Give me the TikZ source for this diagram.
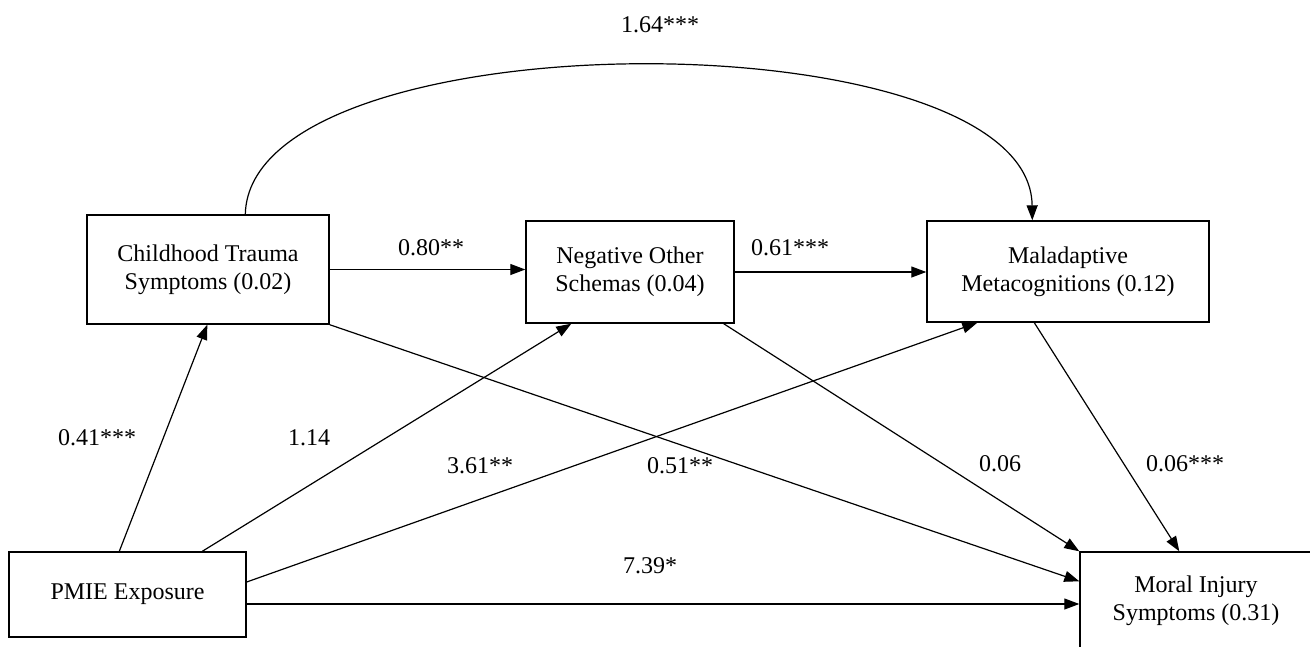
\documentclass[tikz,border=0pt]{standalone}
\usepackage{fontspec}
\setmainfont{Liberation Serif}
\usetikzlibrary{arrows.meta}
\tikzset{
  varbox/.style={draw, line width=1.4pt, rectangle, align=center, inner sep=0pt,
    font=\fontsize{24}{28}\selectfont},
  path/.style={line width=1.2pt, -{Triangle[length=15pt,width=11pt]}},
  coef/.style={font=\fontsize{24}{28}\selectfont, inner sep=0pt},
}
\begin{document}
\begin{tikzpicture}[x=1pt,y=-1pt]
\useasboundingbox (0,0) rectangle (1310,646);
% variables
\node[varbox, minimum width=242pt, minimum height=109pt] (ct) at (208,269.5)
  {Childhood Trauma\\Symptoms (0.02)};
\node[varbox, minimum width=208pt, minimum height=102pt] (nos) at (630,272)
  {Negative Other\\Schemas (0.04)};
\node[varbox, minimum width=282pt, minimum height=101pt] (mm) at (1068,271.5)
  {Maladaptive\\Metacognitions (0.12)};
\node[varbox, minimum width=237pt, minimum height=85pt] (pmie) at (127.5,594.5)
  {PMIE Exposure};
\node[varbox, minimum width=232pt, minimum height=98pt] (mis) at (1196,601)
  {Moral Injury\\Symptoms (0.31)};
% paths
\draw[path] ([xshift=111pt]pmie.north west) -- ([xshift=121pt]ct.south west);
\draw[path] ([xshift=194pt]pmie.north west) -- ([xshift=46pt]nos.south west);
\draw[path] ([yshift=12.5pt]pmie.east) -- ([xshift=51pt]mm.south west);
\draw[path] ([yshift=-9.5pt]pmie.east) -- ([yshift=-9.5pt]pmie.east -| mis.west);
\draw[path] (ct.east) -- (ct.east -| nos.west);
\draw[path] (nos.east) -- (nos.east -| mm.west);
\draw[path] (ct.south east) -- ([yshift=-30pt]mis.north west);
\draw[path] ([xshift=-11pt]nos.south east) -- (mis.north west);
\draw[path] ([xshift=108pt]mm.south west) -- ([xshift=100pt]mis.north west);
\draw[path] ([xshift=159pt]ct.north west) .. controls (250,15) and (1030,15) .. ([xshift=106pt]mm.north west);
% coefficients
\node[coef] (c1) at (660,25) {1.64***};
\node[coef] (c2) at (431,248) {0.80**};
\node[coef] (c3) at (790,248) {0.61***};
\node[coef] (c4) at (97,438) {0.41***};
\node[coef] (c5) at (309,438) {1.14};
\node[coef] (c6) at (480,466) {3.61**};
\node[coef] (c7) at (680,466) {0.51**};
\node[coef] (c8) at (1000,464) {0.06};
\node[coef] (c9) at (1185,464) {0.06***};
\node[coef] (c10) at (650,566) {7.39*};
\end{tikzpicture}
\end{document}
